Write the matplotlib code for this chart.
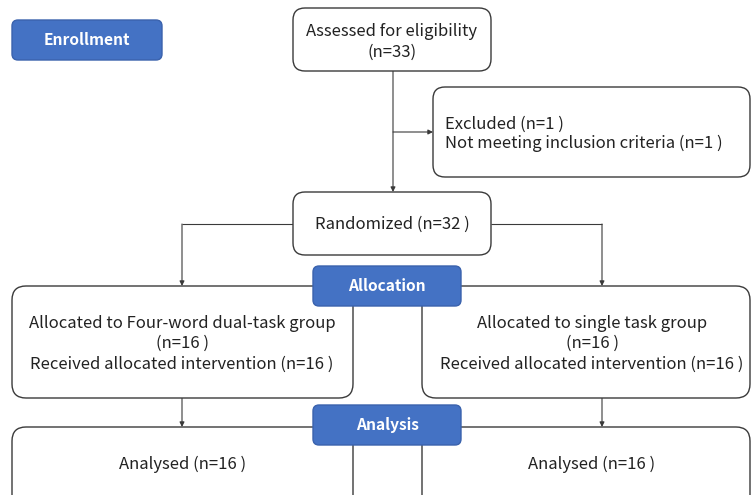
import matplotlib
matplotlib.use("Agg")
import matplotlib.pyplot as plt
from matplotlib.patches import FancyBboxPatch

plt.rcParams['font.family'] = ['Noto Sans CJK SC', 'DejaVu Sans']

# ---- content ----
stage_labels = ["Enrollment", "Allocation", "Analysis"]
assessed_text = ["Assessed for eligibility", "(n=33)"]
excluded_text = ["Excluded (n=1 )", "Not meeting inclusion criteria (n=1 )"]
randomized_text = ["Randomized (n=32 )"]
left_alloc_text = ["Allocated to Four-word dual-task group", "(n=16 )",
                   "Received allocated intervention (n=16 )"]
right_alloc_text = ["Allocated to single task group", "(n=16 )",
                    "Received allocated intervention (n=16 )"]
left_analysis_text = ["Analysed (n=16 )"]
right_analysis_text = ["Analysed (n=16 )"]

W, H = 751, 495
fig = plt.figure(figsize=(W / 100, H / 100), dpi=100)
ax = fig.add_axes([0, 0, 1, 1])
ax.set_xlim(0, W)
ax.set_ylim(H, 0)
ax.axis('off')

EDGE = '#3a3a3a'
BLUE = '#4472C4'
FS = 12.0


def box(x0, y0, x1, y1, r=12, fc='white', ec=EDGE, lw=1.0, z=2):
    p = FancyBboxPatch((x0, y0), x1 - x0, y1 - y0,
                       boxstyle=f"round,pad=0,rounding_size={r}",
                       fc=fc, ec=ec, lw=lw, zorder=z)
    ax.add_patch(p)


def lines_text(cx, ys, texts, ha='center', **kw):
    for y, t in zip(ys, texts):
        ax.text(cx, y, t, ha=ha, va='center', fontsize=FS, color='#222222',
                fontweight='light', zorder=5, **kw)


def line(xs, ys):
    ax.plot(xs, ys, color=EDGE, lw=0.8, zorder=1, solid_capstyle='butt')


def arrow(x0, y0, x1, y1):
    ax.annotate('', xy=(x1, y1), xytext=(x0, y0),
                arrowprops=dict(arrowstyle='-|>', color=EDGE, lw=0.8,
                                mutation_scale=7, shrinkA=0, shrinkB=0),
                zorder=1)


def stage(x0, y0, x1, y1, label):
    box(x0, y0, x1, y1, r=6, fc=BLUE, ec='#3a62ad', lw=1.0, z=4)
    ax.text((x0 + x1) / 2, (y0 + y1) / 2, label, ha='center', va='center',
            color='white', fontsize=11.2, fontweight='bold', zorder=6)


# Enrollment
stage(12, 20, 162, 60, stage_labels[0])

# Assessed
box(293, 8, 491, 71)
lines_text(392, [31, 52], assessed_text)

# Excluded
box(433, 87, 750, 177)
lines_text(445, [124, 143], excluded_text, ha='left')

# Connector assessed -> randomized and to excluded
arrow(393, 71, 393, 192)
arrow(393, 132, 433, 132)

# Randomized
box(293, 192, 491, 255)
lines_text(392, [224], randomized_text)

# Branches
line([293, 182], [224, 224])
arrow(182, 224, 182, 286)
line([491, 602], [224, 224])
arrow(602, 224, 602, 286)

# Allocation boxes
box(12, 286, 353, 398, r=14)
box(422, 286, 750, 398, r=14)
lines_text(182, [323, 343, 364], left_alloc_text)
lines_text(592, [323, 343, 364], right_alloc_text)
stage(313, 266, 461, 306, stage_labels[1])

# Arrows to analysis
arrow(182, 398, 182, 427)
arrow(602, 398, 602, 427)

# Analysis boxes (run past bottom edge)
box(12, 427, 353, 520, r=14)
box(422, 427, 750, 520, r=14)
lines_text(183, [464], left_analysis_text)
lines_text(592, [464], right_analysis_text)
stage(313, 405, 461, 445, stage_labels[2])

fig.savefig('out.png', dpi=100)
